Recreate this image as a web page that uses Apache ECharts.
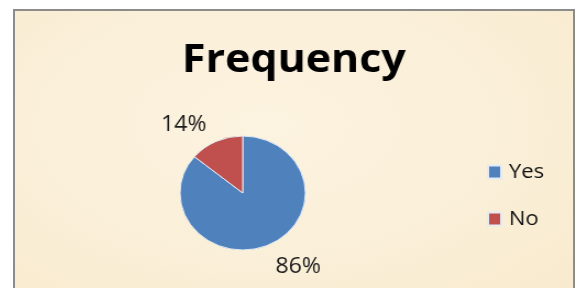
<!DOCTYPE html>
<html>
<head>
<meta charset="utf-8">
<script src="https://cdn.jsdelivr.net/npm/echarts@6/dist/echarts.min.js"></script>
<style>
    html, body { margin: 0; padding: 0; background: #fff; overflow: hidden; }
    #frame {
        position: absolute;
        left: 13px;
        top: 9px;
        width: 558px;
        height: 285px;
        border: 2px solid #8c8c8c;
        border-bottom: none;
        overflow: hidden;
        background: radial-gradient(ellipse at 45% 40%, #fcf3e0 0%, #faefd8 55%, #f8eacd 100%);
    }
    /* the source picture is stretched sideways a little */
    #chart {
        width: 507px;
        height: 285px;
        transform: scaleX(1.1);
        transform-origin: 0 0;
    }
</style>
</head>
<body>
<div id="frame"><div id="chart"></div></div>
<script>
// data
var categories = ['Yes', 'No'];
var values = [86, 14];
var colors = ['#4f81bd', '#c0504d'];

var pieData = categories.map(function (name, i) {
    return { name: name, value: values[i], itemStyle: { color: colors[i] } };
});

var myChart = echarts.init(document.getElementById('chart'));
var option = {
    title: {
        text: 'Frequency',
        left: 'center',
        top: 25,
        textStyle: {
            fontFamily: 'Open Sans',
            fontWeight: 'bold',
            fontSize: 39,
            color: '#000'
        }
    },
    legend: {
        orient: 'vertical',
        left: 424,
        top: 145,
        itemWidth: 12,
        itemHeight: 13,
        itemGap: 25,
        icon: 'rect',
        data: categories,
        textStyle: {
            fontFamily: 'Open Sans',
            fontSize: 20,
            lineHeight: 22,
            color: '#111',
            padding: [0, 0, 0, 2]
        }
    },
    series: [
        {
            type: 'pie',
            center: [207, 182],
            radius: 57,
            startAngle: 90,
            clockwise: true,
            data: pieData,
            label: {
                show: true,
                position: 'outside',
                formatter: '{d}%',
                fontFamily: 'Open Sans',
                fontSize: 21,
                color: '#1a1a1a'
            },
            labelLine: {
                show: false,
                length: 20,
                length2: 2
            },
            // nudge labels to where the source has them
            labelLayout: function (params) {
                return params.dataIndex === 0 ? { dx: -10, dy: 4 } : { dx: 7, dy: 2 };
            },
            itemStyle: {
                borderColor: '#e4ebf4',
                borderWidth: 1
            },
            emphasis: { disabled: true }
        }
    ]
};
myChart.setOption(option);
</script>
</body>
</html>
